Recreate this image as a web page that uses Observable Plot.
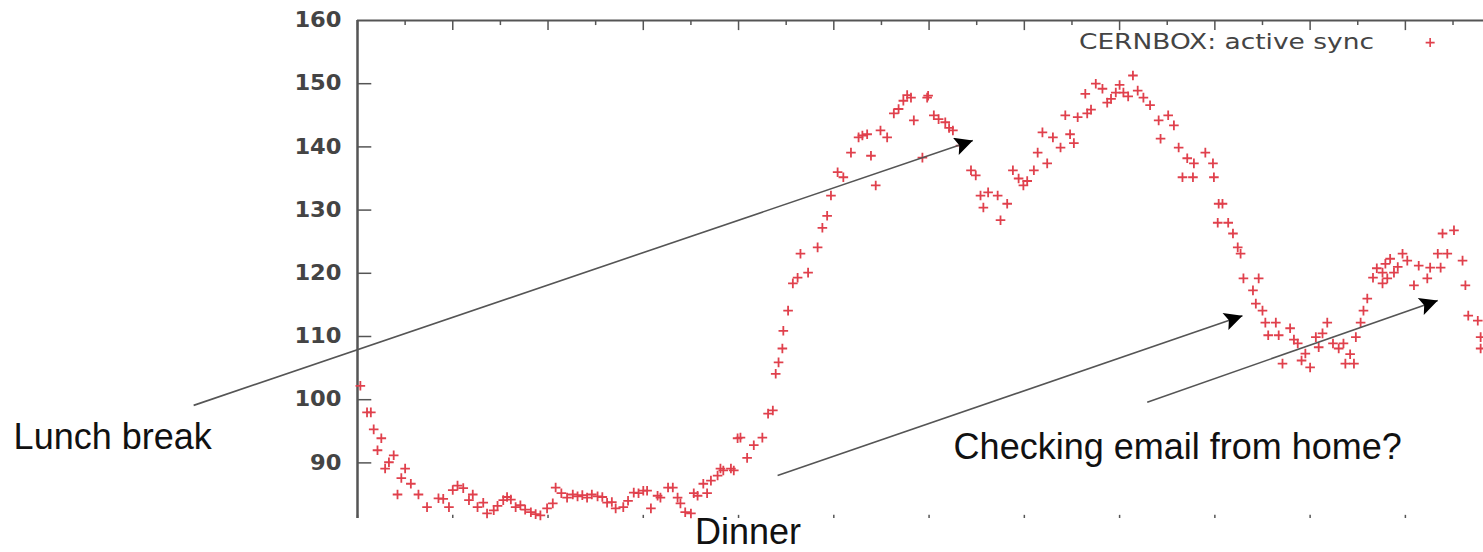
<!DOCTYPE html>
<html><head><meta charset="utf-8">
<script src="https://cdn.jsdelivr.net/npm/d3@7"></script>
<script src="https://cdn.jsdelivr.net/npm/@observablehq/plot@0.6"></script>
<style>body{margin:0;background:#fff;} svg{display:block}</style>
</head><body><div id="chart"></div>
<script>
// time of day offset (hours from start of frame) and number of active sync clients
const hours = [0.03,0.10,0.14,0.17,0.21,0.25,0.29,0.33,0.38,0.42,0.50,0.56,0.64,0.73,0.85,0.96,1.05,1.11,1.17,1.26,1.32,1.36,1.43,1.53,1.61,1.71,1.82,1.92,1.99,2.05,2.08,2.20,2.31,2.41,2.52,2.62,2.71,2.79,2.90,2.95,3.00,3.04,3.08,3.15,3.18,3.26,3.31,3.36,3.39,3.44,3.50,3.53,3.57,3.63,3.67,3.71,3.78,3.81,3.84,3.92,3.95,3.99,4.02,4.09,4.16,4.25,4.31,4.36,4.39,4.42,4.46,4.47,4.52,4.57,4.62,4.65,4.73,4.83,4.88,4.93,4.97,5.04,5.10,5.18,5.26,5.30,5.39,5.44,5.49,5.56,5.63,5.73,5.81,5.84,5.93,5.98,5.99,6.05,6.17,6.25,6.33,6.44,6.49,6.54,6.57,6.62,6.72,6.75,6.82,6.88,6.94,6.99,7.10,7.14,7.19,7.30,7.38,7.43,7.56,7.64,7.66,7.75,7.82,7.87,7.96,8.04,8.14,8.19,8.25,8.32,8.41,8.43,8.51,8.57,8.62,8.66,8.71,8.77,8.78,8.90,8.98,8.99,9.03,9.04,9.08,9.14,9.19,9.24,9.27,9.30,9.40,9.43,9.46,9.50,9.53,9.56,9.64,9.67,9.71,9.79,9.87,9.95,10.00,10.06,10.09,10.18,10.24,10.30,10.35,10.37,10.46,10.48,10.53,10.56,10.60,10.66,10.76,10.76,10.79,10.81,10.88,10.97,11.02,11.09,11.14,11.23,11.26,11.34,11.37,11.39,11.44,11.51,11.60,11.63,11.66,11.76,11.79,11.79,
  0.46,0.90,1.00,1.21,1.47,1.57,1.66,1.76,1.87,2.14,2.26,2.36,2.46,2.57,2.67,2.84,5.35,5.68,5.77,6.10,6.21,7.03,7.24,7.48,7.52,7.70,7.91,8.00,8.09,9.83,9.91,10.13,10.42,10.70,10.84,10.92];
const activeSync = [102.2,98.0,98.0,95.3,92.0,93.9,89.1,90.1,91.2,85.0,89.1,86.7,85.0,83.0,84.4,83.0,86.4,86.0,84.1,83.0,83.7,82.0,82.5,84.1,84.2,83.3,82.2,81.7,82.8,83.6,86.1,84.5,84.7,84.5,84.7,83.7,82.8,83.0,85.3,85.2,85.6,85.6,82.8,84.8,84.5,86.1,86.1,84.5,83.6,82.2,82.0,85.2,84.8,86.7,85.2,87.2,88.0,89.1,88.8,89.1,88.8,93.9,94.0,90.8,92.8,94.0,97.8,98.3,104.1,105.9,108.1,110.9,114.1,118.4,119.3,123.1,120.1,124.1,127.2,129.1,132.3,136.0,135.2,139.1,141.5,141.8,138.6,133.9,142.6,141.5,145.3,147.3,147.8,144.2,138.3,147.8,148.1,145.0,143.9,142.6,140.2,136.3,135.5,132.3,130.4,132.8,132.3,128.4,131.0,136.3,135.0,133.9,136.3,139.1,142.3,141.5,139.9,145.0,144.7,148.4,145.3,150.0,149.2,147.0,148.6,148.6,151.3,148.9,147.8,146.6,144.2,141.3,145.0,143.4,139.9,135.2,138.2,135.2,137.4,139.1,137.4,135.2,128.0,131.0,131.0,128.0,126.3,124.1,123.1,119.2,117.3,115.2,119.2,114.1,112.2,110.2,112.2,110.2,105.7,111.3,108.9,107.3,105.1,109.9,108.3,112.2,108.9,108.1,108.9,105.7,105.7,109.9,112.2,114.1,116.0,119.3,120.1,118.4,121.5,119.2,120.1,123.1,122.0,118.1,121.2,119.2,120.9,123.1,120.9,126.3,123.1,126.8,122.0,118.1,113.3,112.5,109.9,108.1,
  87.6,84.3,85.7,85.0,83.2,84.6,83.0,82.6,81.9,85.2,85.0,84.9,85.0,84.6,83.8,84.0,142.0,146.0,148.2,144.4,143.0,134.6,137.4,142.0,140.6,145.9,147.6,149.8,148.0,109.5,106.2,110.5,107.2,120.8,122.3,121.0];
const seriesName = "CERNBOX: active sync";
const yTicks = [90, 100, 110, 120, 130, 140, 150, 160];
const hourTicks = [0,1,2,3,4,5,6,7,8,9,10,11];
const halfHourTicks = [0.5,1.5,2.5,3.5,4.5,5.5,6.5,7.5,8.5,9.5,10.5,11.5];
// annotations (in data units)
const noteText = ["Lunch break", "Dinner", "Checking email from home?"];
const noteX = [-2.57, 4.10, 8.61];
const noteY = [94.0, 79.0, 92.4];
const arrowX1 = [-1.72, 4.41, 8.29];
const arrowY1 = [99.1, 88.0, 99.6];
const arrowX2 = [6.46, 9.29, 11.34];
const arrowY2 = [141.0, 113.3, 115.7];
const legendX = [10.67], legendSymX = [11.26], legendY = [156.5];

const points = hours.map((h, i) => ({h, v: activeSync[i]}));
const notes = noteText.map((t, i) => ({t, x: noteX[i], y: noteY[i]}));
const arrows = arrowX1.map((x1, i) => ({x1, y1: arrowY1[i], x2: arrowX2[i], y2: arrowY2[i]}));

const plusSymbol = {draw(ctx, size) { const r = Math.sqrt(size / Math.PI); ctx.moveTo(-r, 0); ctx.lineTo(r, 0); ctx.moveTo(0, -r); ctx.lineTo(0, r); }};
const red = "#e0404c";
const axisGray = "#555";

const chart = Plot.plot({
  width: 1483, height: 552,
  marginLeft: 357, marginRight: 0, marginTop: 20, marginBottom: 34,
  x: {domain: [0, 11.82], axis: null},
  y: {domain: [81.2, 160], ticks: yTicks, tickSize: 0, tickPadding: 16, label: null, tickFormat: d => String(d)},
  style: {fontFamily: "DejaVu Sans", fontSize: "21px", color: "#333", background: "white", overflow: "visible"},
  marks: [
    Plot.ruleY([160], {stroke: axisGray, strokeWidth: 2}),
    Plot.ruleX([0], {stroke: axisGray, strokeWidth: 2.5}),
    Plot.ruleX(hourTicks, {y1: 160, y2: 158.4, stroke: axisGray, strokeWidth: 1.5}),
    Plot.ruleX(halfHourTicks, {y1: 160, y2: 159.2, stroke: axisGray, strokeWidth: 1.5}),
    Plot.ruleX(hourTicks, {y1: 81.2, y2: 81.7, stroke: axisGray, strokeWidth: 1.5}),
    Plot.ruleY(yTicks.slice(0, -1), {x1: 0, x2: 0.15, stroke: axisGray, strokeWidth: 1.5}),
    Plot.dot(points, {x: "h", y: "v", symbol: plusSymbol, r: 4.8, stroke: red, fill: "none", strokeWidth: 1.8}),
    Plot.text([seriesName], {x: legendX, y: legendY, text: d => d, textAnchor: "end", fontSize: 21, fill: "#444", fontFamily: "DejaVu Sans"}),
    Plot.dot([seriesName], {x: legendSymX, y: legendY, symbol: plusSymbol, r: 4.5, stroke: red, fill: "none", strokeWidth: 1.6}),
    Plot.link(arrows, {x1: "x1", y1: "y1", x2: "x2", y2: "y2", stroke: "#555", strokeWidth: 1.6}),
    Plot.text(notes, {x: "x", y: "y", text: "t", fontSize: 36, fill: "#111", fontFamily: "Liberation Sans"})
  ]
});

// filled triangular arrowheads on the annotation links
const svg = d3.select(chart);
svg.append("defs").append("marker")
  .attr("id", "arrowhead").attr("viewBox", "0 0 10 10").attr("refX", 10).attr("refY", 5)
  .attr("markerWidth", 28).attr("markerHeight", 18).attr("markerUnits", "userSpaceOnUse").attr("orient", "auto")
  .append("path").attr("d", "M0,0L10,5L0,10L2,5Z").attr("fill", "#000");
svg.selectAll('g[aria-label="link"] path').attr("marker-end", "url(#arrowhead)");
// y tick labels: semi-bold grey, slightly wide like the original
svg.selectAll('g[aria-label="y-axis tick label"] text, g[aria-label="y-axis"] text')
  .attr("fill", "#444").attr("font-weight", "bold").attr("font-size", "21px")
  .each(function() { d3.select(this).attr("textLength", 15.7 * this.textContent.length).attr("lengthAdjust", "spacingAndGlyphs"); });
// legend label stretched to the original's width
svg.selectAll('g[aria-label="text"] text').filter(function() { return this.textContent === seriesName; })
  .attr("textLength", 295).attr("lengthAdjust", "spacingAndGlyphs");

document.getElementById("chart").append(chart);
</script>
</body></html>
